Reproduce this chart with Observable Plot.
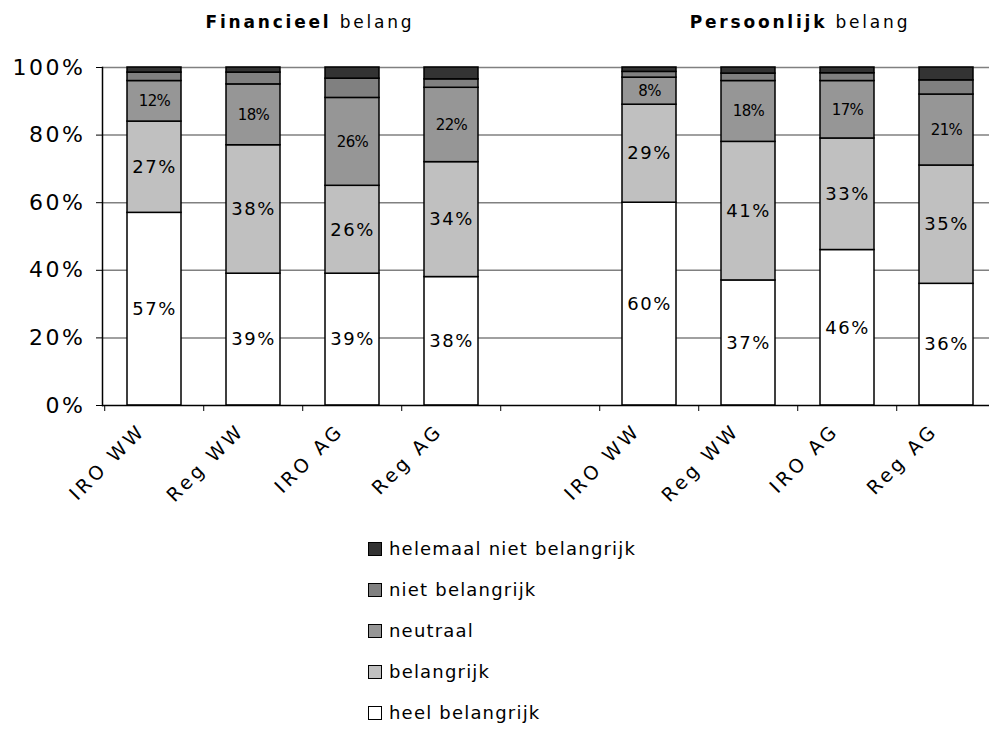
<!DOCTYPE html>
<html>
<head>
<meta charset="utf-8">
<script src="https://cdn.jsdelivr.net/npm/d3@7"></script>
<script src="https://cdn.jsdelivr.net/npm/@observablehq/plot@0.6"></script>
<style>
  body { margin: 0; background: #fff; font-family: "DejaVu Sans", sans-serif; color: #000; width: 989px; overflow: hidden; }
  #titles { position: relative; height: 50px; }
  #titles span.t { position: absolute; top: 12px; transform: translateX(-50%); font-size: 17px; letter-spacing: 2.8px; white-space: nowrap; }
  #legend { padding-left: 368px; }
  .li { height: 41px; display: flex; align-items: center; font-size: 18px; letter-spacing: 1.2px; }
  .sw { width: 12px; height: 12px; border: 1.5px solid #000; margin-right: 7px; box-sizing: content-box; }
  .big text { letter-spacing: 1.5px; }
  .small text { letter-spacing: -0.6px; }
  .ylab text { letter-spacing: 2.5px; }
  .xlab text { letter-spacing: 3.5px; }
</style>
</head>
<body>
<div id="titles"></div>
<div id="chart"></div>
<div id="legend"></div>
<script>
// ---- data ----
const groups = ["Financieel", "Persoonlijk"];
const categories = ["IRO WW", "Reg WW", "IRO AG", "Reg AG"];
const seriesNames = ["heel belangrijk", "belangrijk", "neutraal", "niet belangrijk", "helemaal niet belangrijk"];
const seriesColors = ["#ffffff", "#c0c0c0", "#969696", "#808080", "#333333"];
// order: Financieel IRO WW, Reg WW, IRO AG, Reg AG, Persoonlijk IRO WW, Reg WW, IRO AG, Reg AG
const heelBelangrijk = [57, 39, 39, 38, 60, 37, 46, 36];
const belangrijk     = [27, 38, 26, 34, 29, 41, 33, 35];
const neutraal       = [12, 18, 26, 22, 8, 18, 17, 21];
const nietBelangrijk = [2.5, 3.5, 5.7, 2.5, 1.7, 2.2, 2.3, 4.2];
const helemaalNiet   = [1.5, 1.5, 3.3, 3.5, 1.3, 1.8, 1.7, 3.8];
const yTicks = [0, 20, 40, 60, 80, 100];

const seriesValues = [heelBelangrijk, belangrijk, neutraal, nietBelangrijk, helemaalNiet];
const barKeys = [];
groups.forEach(g => categories.forEach(c => barKeys.push(g + "|" + c)));
const xDomain = [...barKeys.slice(0, 4), "gap", ...barKeys.slice(4)];
const rows = [];
barKeys.forEach((k, i) => seriesValues.forEach((vals, j) => rows.push({key: k, series: seriesNames[j], idx: j, value: vals[i]})));

// ---- titles ----
const titles = document.getElementById("titles");
[["Financieel", 310], ["Persoonlijk", 800]].forEach(([g, cx]) => {
  const s = document.createElement("span");
  s.className = "t";
  s.style.left = cx + "px";
  s.innerHTML = "<b>" + g + "</b> belang";
  titles.appendChild(s);
});

// ---- chart ----
const xRange = [102, 998];
const step = (xRange[1] - xRange[0]) / xDomain.length;
const stackOpts = {x: "key", y: "value", z: "series", order: seriesNames};

const chart = Plot.plot({
  width: 989,
  height: 478,
  marginLeft: 102,
  marginRight: 0,
  marginTop: 17,
  marginBottom: 123,
  style: {fontFamily: "DejaVu Sans, sans-serif", color: "#000", background: "#fff", overflow: "visible"},
  x: {domain: xDomain, range: xRange, paddingInner: 0.45, paddingOuter: 0.225},
  y: {domain: [0, 100]},
  color: {domain: seriesNames, range: seriesColors},
  marks: [
    Plot.ruleY(yTicks.slice(1), {stroke: "#808080", strokeWidth: 1.5}),
    Plot.barY(rows, Plot.stackY({...stackOpts, fill: "series", stroke: "#000", strokeWidth: 1.5})),
    Plot.text(rows, Plot.stackY({...stackOpts, text: d => d.idx < 2 ? Math.round(d.value) + "%" : "", fontSize: 18, fill: "#000", className: "big"})),
    Plot.text(rows, Plot.stackY({...stackOpts, text: d => d.idx === 2 ? Math.round(d.value) + "%" : "", fontSize: 15, fill: "#000", className: "small"})),
    Plot.ruleY([0], {stroke: "#000", strokeWidth: 1.5}),
    Plot.frame({anchor: "left", stroke: "#000", strokeWidth: 1.5}),
    Plot.axisY({ticks: yTicks, tickFormat: d => d + "%", tickSize: 6, tickPadding: 11, fontSize: 22, className: "ylab", label: null}),
    Plot.axisX({ticks: xDomain, tickSize: 6, tickFormat: () => "", dx: -step / 2, label: null}),
    Plot.axisX({ticks: barKeys, tickSize: 0, tickRotate: -45, tickPadding: 22, dx: -12, fontSize: 19, className: "xlab",
      tickFormat: k => k.split("|")[1], label: null})
  ]
});
document.getElementById("chart").appendChild(chart);

// ---- legend ----
const legend = document.getElementById("legend");
seriesNames.slice().reverse().forEach((name, i) => {
  const color = seriesColors[seriesNames.indexOf(name)];
  const row = document.createElement("div");
  row.className = "li";
  row.innerHTML = `<span class="sw" style="background:${color}"></span><span>${name}</span>`;
  legend.appendChild(row);
});
</script>
</body>
</html>
